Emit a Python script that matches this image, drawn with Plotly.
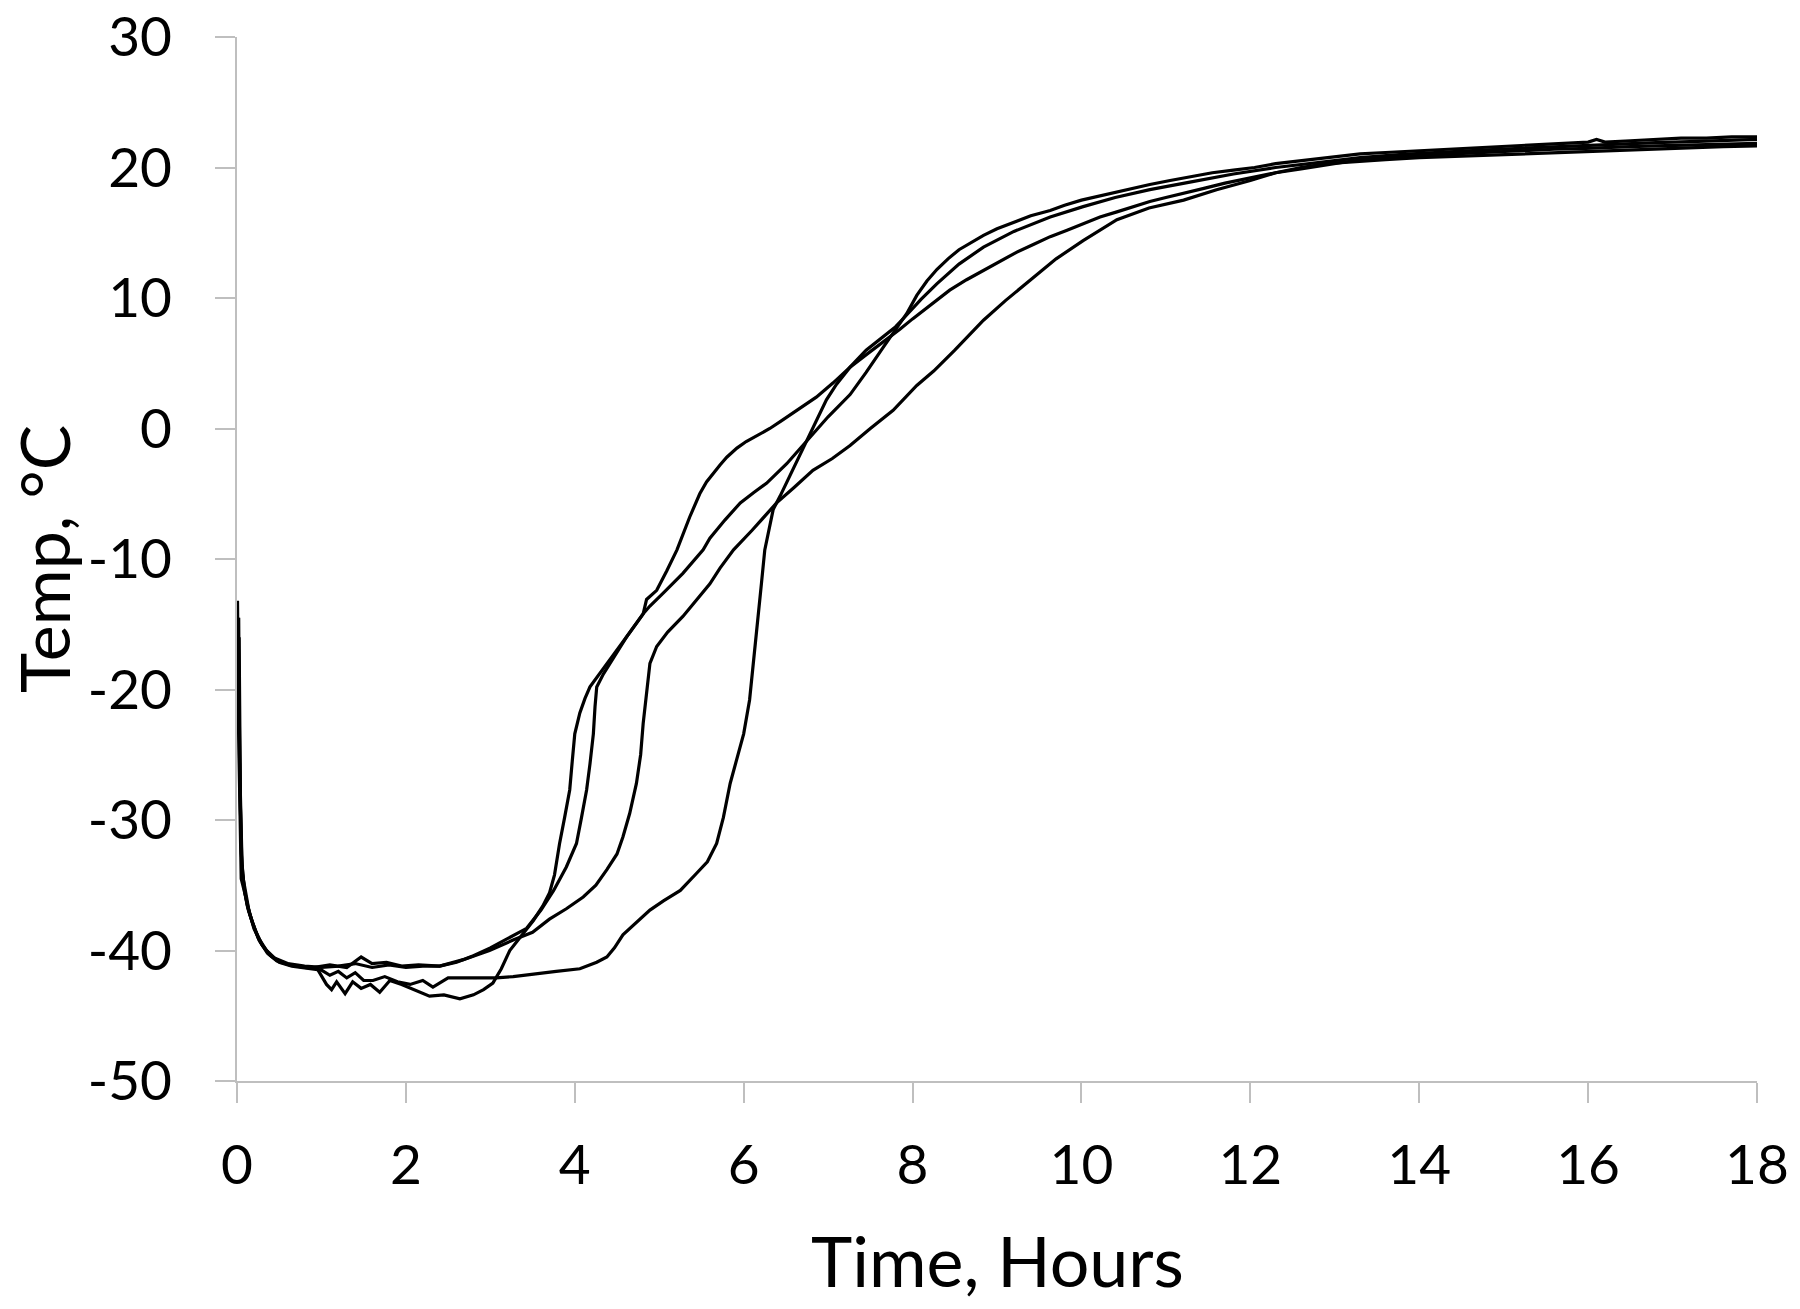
import plotly.graph_objects as go

# ---- Data: (time in hours, temperature in °C) ----
x_ticks = [0, 2, 4, 6, 8, 10, 12, 14, 16, 18]
x_tick_text = ["0", "2", "4", "6", "8", "10", "12", "14", "16", "18"]
y_ticks = [-50, -40, -30, -20, -10, 0, 10, 20, 30]
y_tick_text = ["-50", "-40", "-30", "-20", "-10", "0", "10", "20", "30"]

sample_a = [(0, -19.0), (0.006, -13.2), (0.012, -17.5), (0.02, -14.5), (0.03, -25.0), (0.05, -32.5),
            (0.08, -35.0), (0.12, -36.5), (0.18, -37.8), (0.25, -39.0), (0.35, -40.0), (0.45, -40.6),
            (0.6, -41.0), (0.8, -41.2), (1.0, -41.3), (1.2, -41.2), (1.4, -41.0), (1.6, -41.3),
            (1.8, -41.1), (2.0, -41.3), (2.2, -41.2), (2.4, -41.2), (2.6, -40.9), (2.8, -40.4),
            (3.0, -39.8), (3.2, -39.1), (3.43, -38.3), (3.6, -36.9), (3.75, -35.4), (3.9, -33.6),
            (4.02, -31.8), (4.08, -29.8), (4.14, -27.7), (4.18, -25.7), (4.22, -23.4), (4.24, -21.3),
            (4.26, -19.8), (4.34, -18.8), (4.47, -17.4), (4.61, -16.0), (4.81, -14.2), (4.89, -13.6),
            (5.05, -12.6), (5.28, -11.1), (5.52, -9.3), (5.6, -8.4), (5.78, -7.0), (5.96, -5.7),
            (6.12, -4.9), (6.27, -4.2), (6.51, -2.7), (6.75, -0.9), (7.0, 0.9), (7.26, 2.6),
            (7.45, 4.3), (7.65, 6.2), (7.8, 7.6), (7.93, 8.8), (8.05, 10.2), (8.17, 11.3),
            (8.29, 12.2), (8.42, 13.0), (8.55, 13.7), (8.7, 14.3), (8.84, 14.8), (9.0, 15.3),
            (9.2, 15.8), (9.4, 16.3), (9.63, 16.7), (9.8, 17.1), (10.0, 17.5), (10.2, 17.8),
            (10.4, 18.1), (10.6, 18.4), (10.81, 18.7), (11.05, 19.0), (11.3, 19.3), (11.55, 19.6),
            (11.8, 19.8), (12.05, 20.0), (12.3, 20.3), (12.55, 20.5), (12.8, 20.7), (13.05, 20.9),
            (13.3, 21.05), (13.6, 21.15), (13.9, 21.25), (14.2, 21.35), (14.5, 21.45), (14.8, 21.55),
            (15.1, 21.65), (15.4, 21.75), (15.7, 21.85), (16.0, 21.95), (16.1, 22.15), (16.2, 21.95),
            (16.5, 22.05), (16.8, 22.15), (17.1, 22.25), (17.4, 22.25), (17.7, 22.35), (18.0, 22.35)]

sample_b = [(0, -20.0), (0.008, -15.5), (0.015, -19.0), (0.025, -16.0), (0.04, -28.0), (0.06, -33.5),
            (0.09, -35.5), (0.13, -36.8), (0.19, -38.0), (0.26, -39.2), (0.36, -40.2), (0.47, -40.8),
            (0.62, -41.1), (0.8, -41.3), (0.95, -41.4), (1.06, -42.6), (1.12, -43.0), (1.18, -42.4),
            (1.28, -43.3), (1.37, -42.4), (1.47, -42.9), (1.58, -42.6), (1.69, -43.2), (1.81, -42.3),
            (1.95, -42.6), (2.09, -43.0), (2.28, -43.5), (2.45, -43.4), (2.64, -43.7), (2.80, -43.4),
            (2.92, -43.0), (3.03, -42.5), (3.13, -41.4), (3.23, -40.0), (3.37, -38.8), (3.51, -37.7),
            (3.62, -36.6), (3.70, -35.6), (3.76, -34.2), (3.82, -31.8), (3.88, -29.8), (3.94, -27.7),
            (3.97, -25.5), (4.00, -23.4), (4.06, -21.8), (4.12, -20.7), (4.18, -19.8), (4.30, -18.7),
            (4.45, -17.4), (4.61, -16.0), (4.72, -15.0), (4.81, -14.2), (4.85, -13.1), (4.97, -12.4),
            (5.09, -10.9), (5.21, -9.3), (5.36, -6.8), (5.48, -5.0), (5.56, -4.1), (5.64, -3.4),
            (5.72, -2.8), (5.80, -2.2), (5.92, -1.5), (6.03, -1.0), (6.17, -0.5), (6.31, 0.0),
            (6.45, 0.6), (6.59, 1.2), (6.72, 1.8), (6.86, 2.4), (7.06, 3.5), (7.26, 4.7),
            (7.46, 5.7), (7.65, 6.6), (7.85, 7.6), (8.0, 8.4), (8.2, 9.4), (8.44, 10.6),
            (8.64, 11.4), (8.84, 12.1), (9.03, 12.8), (9.23, 13.5), (9.43, 14.1), (9.63, 14.7),
            (9.83, 15.2), (10.02, 15.7), (10.22, 16.2), (10.42, 16.6), (10.62, 17.0), (10.81, 17.4),
            (11.0, 17.7), (11.21, 18.0), (11.45, 18.4), (11.7, 18.8), (12.0, 19.2), (12.3, 19.6),
            (12.6, 19.9), (12.9, 20.2), (13.2, 20.5), (13.5, 20.7), (13.8, 20.85), (14.1, 20.95),
            (14.4, 21.05), (14.7, 21.15), (15.0, 21.25), (15.3, 21.3), (15.6, 21.4), (15.9, 21.45),
            (16.2, 21.55), (16.5, 21.6), (16.8, 21.65), (17.1, 21.7), (17.4, 21.75), (17.7, 21.8),
            (18.0, 21.85)]

sample_c = [(0, -16.5), (0.01, -20.0), (0.02, -24.0), (0.035, -30.0), (0.05, -34.5), (0.1, -35.8),
            (0.15, -37.2), (0.22, -38.5), (0.3, -39.6), (0.4, -40.4), (0.52, -40.9), (0.7, -41.2),
            (0.9, -41.3), (1.1, -41.1), (1.3, -41.3), (1.47, -40.5), (1.6, -41.0), (1.77, -40.9),
            (1.95, -41.2), (2.15, -41.1), (2.4, -41.2), (2.68, -40.7), (2.99, -40.0), (3.27, -39.2),
            (3.5, -38.6), (3.7, -37.6), (3.9, -36.8), (4.10, -35.9), (4.25, -35.0), (4.38, -33.8),
            (4.5, -32.6), (4.57, -31.3), (4.65, -29.5), (4.73, -27.2), (4.78, -25.0), (4.81, -22.6),
            (4.85, -20.3), (4.89, -18.0), (4.97, -16.7), (5.1, -15.6), (5.28, -14.4), (5.45, -13.1),
            (5.60, -11.9), (5.72, -10.7), (5.88, -9.3), (6.1, -7.8), (6.39, -5.7), (6.6, -4.5),
            (6.82, -3.2), (7.05, -2.3), (7.26, -1.3), (7.5, 0.0), (7.77, 1.4), (8.05, 3.3),
            (8.25, 4.4), (8.5, 6.0), (8.84, 8.3), (9.1, 9.8), (9.43, 11.6), (9.7, 13.0),
            (10.02, 14.4), (10.22, 15.2), (10.42, 16.0), (10.8, 16.9), (11.21, 17.5), (11.6, 18.3),
            (12.0, 19.0), (12.3, 19.6), (12.6, 20.0), (12.9, 20.3), (13.2, 20.45), (13.6, 20.6),
            (14.0, 20.75), (14.4, 20.85), (14.8, 20.95), (15.2, 21.05), (15.6, 21.15), (16.0, 21.25),
            (16.4, 21.35), (16.8, 21.4), (17.2, 21.5), (17.6, 21.6), (18.0, 21.65)]

sample_d = [(0, -18.0), (0.012, -14.5), (0.025, -21.0), (0.04, -29.0), (0.06, -34.0), (0.1, -35.3),
            (0.14, -36.9), (0.2, -38.3), (0.28, -39.4), (0.38, -40.3), (0.5, -40.9), (0.65, -41.2),
            (0.85, -41.4), (1.0, -41.5), (1.1, -41.9), (1.2, -41.6), (1.3, -42.1), (1.4, -41.7),
            (1.5, -42.3), (1.61, -42.3), (1.75, -42.0), (1.9, -42.4), (2.05, -42.6), (2.2, -42.3),
            (2.32, -42.8), (2.5, -42.1), (2.75, -42.1), (3.07, -42.1), (3.27, -42.0), (3.5, -41.8),
            (3.78, -41.6), (4.06, -41.4), (4.26, -40.9), (4.38, -40.5), (4.47, -39.8), (4.57, -38.8),
            (4.7, -38.0), (4.89, -36.9), (5.05, -36.2), (5.25, -35.4), (5.44, -34.1), (5.57, -33.2),
            (5.68, -31.8), (5.76, -29.8), (5.84, -27.2), (5.92, -25.2), (6.0, -23.4), (6.07, -20.8),
            (6.15, -16.0), (6.21, -11.9), (6.25, -9.3), (6.35, -6.2), (6.43, -5.2), (6.55, -3.6),
            (6.7, -1.5), (6.85, 0.5), (6.98, 2.2), (7.1, 3.4), (7.26, 4.7), (7.45, 6.0),
            (7.6, 6.8), (7.8, 7.8), (7.93, 8.7), (8.1, 9.9), (8.29, 11.1), (8.55, 12.6),
            (8.84, 13.9), (9.2, 15.1), (9.63, 16.2), (10.02, 17.0), (10.4, 17.7), (10.81, 18.3),
            (11.3, 18.9), (11.8, 19.5), (12.3, 20.0), (12.8, 20.4), (13.3, 20.75), (13.8, 21.0),
            (14.3, 21.2), (14.8, 21.35), (15.3, 21.5), (15.8, 21.65), (16.3, 21.8), (16.8, 21.9),
            (17.3, 22.0), (17.8, 22.1), (18.0, 22.15)]

series = [sample_a, sample_b, sample_c, sample_d]

FONT = "Lato, 'Open Sans', sans-serif"
AXIS_GRAY = "#bfbfbf"

fig = go.Figure()
for pts in series:
    t_vals = [p[0] for p in pts]
    temp_vals = [p[1] for p in pts]
    fig.add_trace(go.Scatter(x=t_vals, y=temp_vals, mode="lines",
                             line=dict(color="black", width=3.2),
                             hoverinfo="skip", showlegend=False, cliponaxis=False))

axis_common = dict(
    showline=True, linecolor=AXIS_GRAY, linewidth=2,
    ticks="outside", ticklen=20, tickwidth=2, tickcolor=AXIS_GRAY,
    showgrid=False, zeroline=False, automargin=False,
    ticklabeloverflow="allow",
    tickfont=dict(family=FONT, size=55, color="black"),
)

fig.update_layout(
    width=1800, height=1309,
    margin=dict(l=237, r=43, t=37, b=228, autoexpand=False),
    paper_bgcolor="white", plot_bgcolor="white",
    showlegend=False,
    xaxis=dict(range=[0, 18], tickvals=x_ticks, ticktext=x_tick_text,
               ticklabelstandoff=15, **axis_common),
    yaxis=dict(range=[-50, 30], tickvals=y_ticks, ticktext=y_tick_text,
               ticklabelstandoff=32, **axis_common),
    annotations=[
        dict(text="Time, Hours", xref="paper", yref="paper", x=0.5, y=-0.1715,
             xanchor="center", yanchor="middle", showarrow=False,
             font=dict(family=FONT, size=70, color="black")),
        dict(text="Temp, °C", xref="paper", yref="paper", x=-0.1276, y=0.5,
             xanchor="center", yanchor="middle", textangle=-90, showarrow=False,
             font=dict(family=FONT, size=68, color="black")),
    ],
)

# Remove the default page margin so the figure fills the browser window exactly.
fig.write_html("out.html",
               config={"displayModeBar": False, "staticPlot": True},
               post_script="document.body.style.margin='0';document.body.style.padding='0';")
